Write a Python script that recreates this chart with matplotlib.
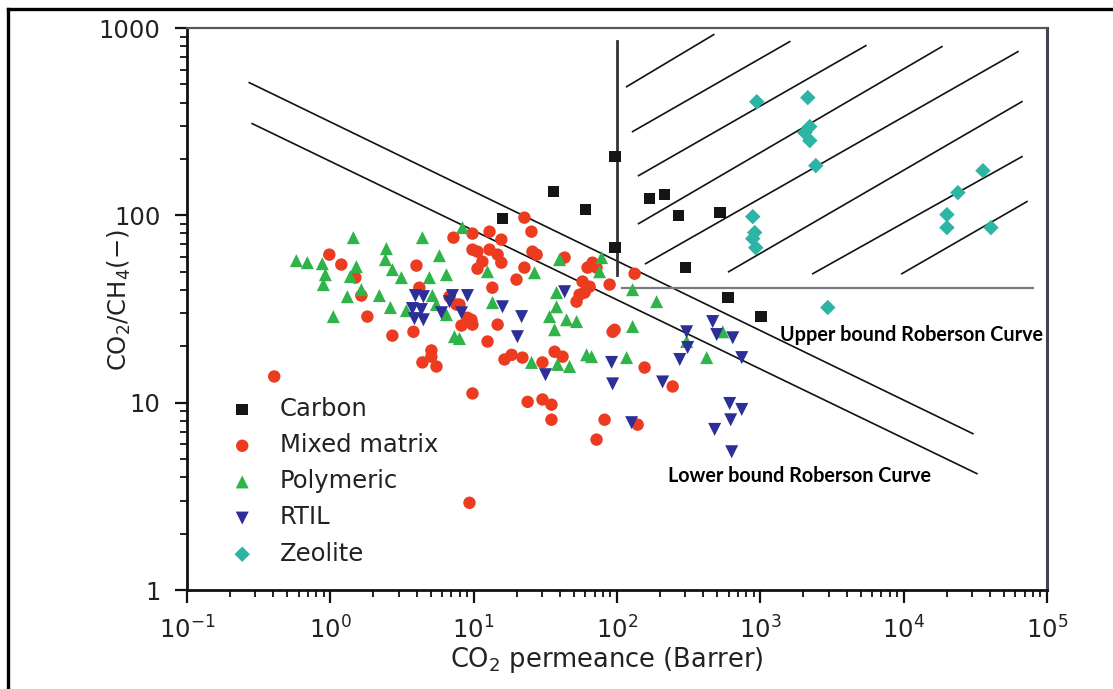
import matplotlib
matplotlib.use('Agg')
import matplotlib.pyplot as plt
from matplotlib.lines import Line2D

plt.rcParams['font.family'] = ['DejaVu Sans']
plt.rcParams['mathtext.fontset'] = 'dejavusans'

# ---------------- data ----------------
series_names = ['Carbon', 'Mixed matrix', 'Polymeric', 'RTIL', 'Zeolite']

carbon_x = [15.9, 36.1, 60.3, 97, 97, 168.9, 215, 269, 521, 301, 592, 1006]
carbon_y = [96.0, 133.8, 107.2, 205.8, 67.2, 122.8, 129, 99.6, 103.4, 52.6, 36.4, 28.8]

mixed_x = [0.984, 1.193, 1.495, 1.646, 1.813, 0.406, 2.71, 3.80, 3.99, 4.18,
           7.23, 9.81, 10.63, 10.63, 7.96, 9.05, 9.81, 8.22, 5.07, 5.07,
           4.39, 5.50, 9.81, 9.35, 22.6, 12.9, 15.6, 25.3, 12.9, 14.7,
           11.5, 15.6, 25.7, 27.5, 22.6, 19.9, 13.5, 43.1, 62.3, 67.5,
           88.8, 57.5, 54.8, 52.2, 59.4, 6.78, 7.58, 9.65, 14.7, 12.5,
           18.4, 21.9, 16.4, 36.7, 41.7, 30.2, 93.2, 23.8, 30.2, 34.9,
           34.9, 81.9, 72.0, 64.4, 132.7, 96.2, 155.8, 244.5, 72.0, 139.3,
           9.81]
mixed_y = [61.7, 54.6, 46.5, 37.3, 28.8, 13.8, 22.8, 23.9, 53.9, 41.1,
           76.0, 79.9, 64.0, 51.9, 33.4, 28.4, 26.1, 25.8, 19.0, 17.6,
           16.4, 15.6, 11.2, 2.92, 97.2, 81.8, 74.2, 81.8, 65.6, 61.7,
           56.6, 55.9, 64.0, 61.7, 52.6, 45.4, 41.1, 59.5, 52.6, 55.9,
           42.7, 44.3, 37.7, 34.6, 38.7, 36.8, 33.4, 27.7, 26.1, 21.2,
           18.0, 17.4, 17.0, 18.7, 17.6, 16.4, 23.9, 10.1, 10.4, 9.76,
           8.11, 8.11, 52.6, 41.6, 48.8, 24.5, 15.4, 12.2, 6.35, 7.63,
           65.6]

poly_x = [0.579, 0.691, 0.879, 0.923, 0.894, 1.447, 1.519, 1.379, 1.646, 1.314,
          2.199, 2.461, 2.422, 2.710, 3.132, 4.390, 5.770, 4.913, 6.458, 5.156,
          2.624, 3.394, 1.049, 7.959, 7.344, 8.353, 12.49, 26.58, 39.73, 78.08,
          75.6, 13.53, 6.458, 37.87, 37.87, 33.83, 44.46, 52.24, 36.67, 61.34,
          25.33, 46.67, 38.48, 128.5, 189.0, 128.5, 116.7, 66.47, 306.2, 422.5,
          546.4, 5.498]
poly_y = [57.3, 55.9, 55.2, 48.2, 42.7, 76.0, 53.2, 47.1, 40.1, 36.8,
          37.3, 66.4, 58.0, 51.3, 46.5, 76.0, 60.9, 46.5, 48.2, 37.3,
          32.2, 31.0, 28.8, 22.0, 22.5, 86.0, 50.0, 49.4, 58.0, 59.5,
          50.0, 34.2, 29.5, 38.7, 32.5, 28.8, 27.7, 27.1, 24.5, 18.0,
          16.4, 15.6, 16.0, 40.1, 34.6, 25.5, 17.4, 17.6, 21.2, 17.4,
          23.9, 33.4]

rtil_x = [3.92, 4.46, 3.74, 4.32, 3.86, 4.46, 7.11, 9.05, 5.96, 8.22,
          6.78, 15.9, 21.6, 20.2, 43.1, 31.7, 91.7, 93.2, 126.5, 208,
          306, 465, 496, 642, 311, 274, 742, 611, 742, 621,
          480, 631]
rtil_y = [37.3, 36.8, 31.8, 31.4, 28.1, 27.7, 37.3, 37.3, 30.2, 30.2,
          34.6, 32.5, 28.8, 22.5, 39.1, 14.1, 16.4, 12.6, 7.82, 12.9,
          23.9, 27.1, 23.1, 22.2, 19.7, 17.0, 17.4, 9.9, 9.2, 8.1,
          7.2, 5.47]

zeo_x = [944, 2143, 2213, 2042, 2213, 2437, 885, 914, 885, 929,
         35730, 23890, 20040, 20040, 40640, 2956]
zeo_y = [404, 425, 297.6, 276.4, 250.5, 184.3, 98.4, 80.9, 75.1, 67.2,
         173.2, 132.2, 100.9, 86.0, 86.0, 32.2]

# Robeson bounds (endpoints)
upper_x = [0.272, 30420]
upper_y = [511, 6.83]
lower_x = [0.285, 32440]
lower_y = [308.8, 4.18]

# attractive-region frame
vline_x = [100, 100]
vline_y = [853, 48]
hline_x = [109, 79600]
hline_y = [41, 41]

# hatch lines (start x, start y, end x, end y)
hatch_x0 = [116.7, 128.5, 141.5, 141.5, 158.4, 601.6, 2322, 9714]
hatch_y0 = [486, 279.9, 162.9, 90.3, 55.2, 50.0, 48.8, 48.8]
hatch_x1 = [472.9, 1604, 5445, 18490, 62740, 66900, 66900, 72500]
hatch_y1 = [922, 846, 805, 795.6, 748, 404.6, 205.8, 118.4]

y_ticks = [1, 10, 100, 1000]
y_tick_labels = ['1', '10', '100', '1000']
x_ticks = [1e-1, 1e0, 1e1, 1e2, 1e3, 1e4, 1e5]
x_tick_labels = ['$10^{-1}$', '$10^{0}$', '$10^{1}$', '$10^{2}$', '$10^{3}$', '$10^{4}$', '$10^{5}$']

# ---------------- figure ----------------
W, H = 1113, 689
fig = plt.figure(figsize=(W / 100, H / 100), dpi=100)
L, R, T, B = 187, 1047, 28, 590
ax = fig.add_axes([L / W, 1 - B / H, (R - L) / W, (B - T) / H])
ax.set_xscale('log')
ax.set_yscale('log')
ax.set_xlim(0.1, 1e5)
ax.set_ylim(1, 1000)

line_col = '#111111'
ax.plot(upper_x, upper_y, color=line_col, lw=1.2, zorder=2)
ax.plot(lower_x, lower_y, color=line_col, lw=1.2, zorder=2)
for x0, y0, x1, y1 in zip(hatch_x0, hatch_y0, hatch_x1, hatch_y1):
    ax.plot([x0, x1], [y0, y1], color=line_col, lw=1.2, zorder=2)
ax.plot(vline_x, vline_y, color='#333333', lw=2.0, zorder=2)
ax.plot(hline_x, hline_y, color='#7a7a80', lw=1.6, zorder=2)

c_red = '#ec3b1f'
c_green = '#2fb44a'
c_blue = '#2c2f98'
c_teal = '#2cb5a4'
c_black = '#151515'

ax.scatter(mixed_x, mixed_y, marker='o', s=80, color=c_red, edgecolors='none', zorder=3, label=series_names[1])
ax.scatter(poly_x, poly_y, marker='^', s=88, color=c_green, edgecolors='none', zorder=4, label=series_names[2])
ax.scatter(rtil_x, rtil_y, marker='v', s=88, color=c_blue, edgecolors='none', zorder=5, label=series_names[3])
ax.scatter(carbon_x, carbon_y, marker='s', s=70, color=c_black, edgecolors='none', zorder=6, label=series_names[0])
ax.scatter(zeo_x, zeo_y, marker='D', s=62, color=c_teal, edgecolors='none', zorder=6, label=series_names[4])

handles, labels = ax.get_legend_handles_labels()
order = [labels.index(n) for n in series_names]
leg = ax.legend([handles[i] for i in order], [labels[i] for i in order],
                loc='upper left', bbox_to_anchor=(0.019, 0.378), frameon=False,
                fontsize=17.5, labelspacing=0.5, handletextpad=0.75,
                handlelength=1.6, borderpad=0.3)
for t in leg.get_texts():
    t.set_color('#222222')

# annotations
ax.text(1366, 23.1, 'Upper bound Roberson Curve', fontfamily='Lato', fontweight='bold',
        fontsize=14.2, ha='left', va='center', color='black', zorder=7)
ax.text(225.6, 4.08, 'Lower bound Roberson Curve', fontfamily='Lato', fontweight='bold',
        fontsize=14.2, ha='left', va='center', color='black', zorder=7)

# axes styling
for side in ['left', 'bottom']:
    ax.spines[side].set_linewidth(2.0)
    ax.spines[side].set_color('#111111')
ax.spines['top'].set_linewidth(1.6)
ax.spines['top'].set_color('#55555f')
ax.spines['right'].set_linewidth(2.2)
ax.spines['right'].set_color('#444450')

ax.set_yticks(y_ticks)
ax.set_yticklabels(y_tick_labels)
ax.set_xticks(x_ticks)
ax.set_xticklabels(x_tick_labels)
ax.tick_params(which='major', direction='out', length=9, width=1.6, labelsize=17.5,
               pad=10, colors='#111111', labelcolor='#222222')
ax.tick_params(which='minor', direction='out', length=5, width=1.3, colors='#111111')
ax.tick_params(top=False, right=False, which='both')

ax.set_xlabel('CO$_2$ permeance (Barrer)', fontsize=18.5, color='#222222')
ax.xaxis.set_label_coords((607 - L) / (R - L), -(645 - B) / (B - T))
ax.set_ylabel('CO$_2$/CH$_4$(\u2212)', fontsize=17.5, color='#222222')
ax.yaxis.set_label_coords(-(L - 133) / (R - L), (B - 300) / (B - T))

# outer frame
fig.add_artist(Line2D([8 / W, 8 / W], [0, 1 - 9 / H], transform=fig.transFigure, color='black', lw=2.4))
fig.add_artist(Line2D([8 / W, 1], [1 - 9 / H, 1 - 9 / H], transform=fig.transFigure, color='black', lw=2.4))

fig.savefig('out.png', dpi=100)
